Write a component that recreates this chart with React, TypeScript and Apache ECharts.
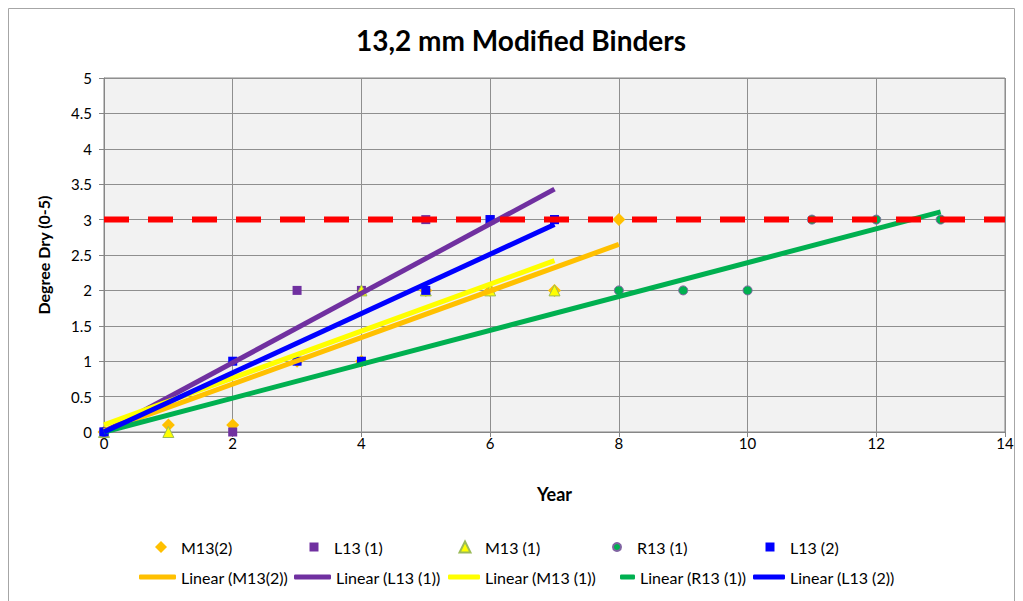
import React, { useEffect, useRef } from "react";
import * as echarts from "echarts";

// ---- data ----
const scatterNames = ["M13(2)", "L13 (1)", "M13 (1)", "R13 (1)", "L13 (2)"];
const trendNames = ["Linear (M13(2))", "Linear (L13 (1))", "Linear (M13 (1))", "Linear (R13 (1))", "Linear (L13 (2))"];

const m13_2X = [0, 1, 2, 3, 4, 5, 6, 7, 8];
const m13_2Y = [0, 0.1, 0.1, 1, 1, 2, 2, 2, 3];
const l13_1X = [0, 2, 3, 4, 5, 6, 7];
const l13_1Y = [0, 0, 2, 2, 3, 3, 3];
const m13_1X = [0, 1, 4, 5, 6, 7];
const m13_1Y = [0, 0, 2, 2, 2, 2];
const r13_1X = [0, 8, 9, 10, 11, 12, 13];
const r13_1Y = [0, 2, 2, 2, 3, 3, 3];
const l13_2X = [0, 2, 3, 4, 5, 6, 7];
const l13_2Y = [0, 1, 1, 1, 2, 3, 3];

// trendline end points [x, y]
const trendM13_2 = [[0, 0.02], [8, 2.65]];
const trendL13_1 = [[0, 0], [7, 3.43]];
const trendM13_1 = [[0, 0.1], [7, 2.42]];
const trendR13_1 = [[0, 0], [13, 3.11]];
const trendL13_2 = [[0, 0], [7, 2.93]];

const thresholdX = [0, 14];
const thresholdY = 3;

const FONT = "Lato, 'Open Sans', sans-serif";

const zip = (xs: number[], ys: number[]) => xs.map((x, i) => [x, ys[i]]);

export default function App() {
  const ref = useRef<HTMLDivElement>(null);
  useEffect(() => {
    document.body.style.margin = "0";
    if (!ref.current) return;
    const chart = echarts.init(ref.current, undefined, { renderer: "svg" });

    const scatterData = [
      zip(m13_2X, m13_2Y),
      zip(l13_1X, l13_1Y),
      zip(m13_1X, m13_1Y),
      zip(r13_1X, r13_1Y),
      zip(l13_2X, l13_2Y),
    ];
    const trendData = [trendM13_2, trendL13_1, trendM13_1, trendR13_1, trendL13_2];
    const colors = ["#FFC000", "#7030A0", "#FFFF00", "#00B050", "#0000FF"];
    const symbols = ["diamond", "rect", "triangle", "circle", "rect"];
    const symbolSizes = [13, 9, 11, 9, 9];
    const borders = [
      { borderWidth: 0 },
      { borderWidth: 0 },
      { borderColor: "#9BBB59", borderWidth: 1 },
      { borderColor: "#8064A2", borderWidth: 1 },
      { borderWidth: 0 },
    ];

    const series: any[] = [];
    scatterNames.forEach((n, i) => {
      series.push({
        name: n,
        type: "scatter",
        data: scatterData[i],
        symbol: symbols[i],
        symbolSize: symbolSizes[i],
        itemStyle: { color: colors[i], opacity: 1, ...borders[i] },
        z: 2,
      });
    });
    trendNames.forEach((n, i) => {
      series.push({
        name: n,
        type: "line",
        data: trendData[i],
        symbol: "none",
        showSymbol: false,
        lineStyle: { color: colors[i], width: 5 },
        itemStyle: { color: colors[i] },
        z: 3,
      });
    });
    series.push({
      name: "threshold",
      type: "line",
      data: thresholdX.map((x) => [x, thresholdY]),
      symbol: "none",
      lineStyle: { color: "#FF0000", width: 6, type: [25, 19] },
      z: 4,
    });

    const row1Left = [155, 308, 458, 610, 764];
    const row1Size = [12, 9, 11, 8, 9];
    const row2Left = [139, 294, 448, 620, 753];
    const row2Width = [37, 37, 32, 15, 32];
    const legends: any[] = [];
    scatterNames.forEach((n, i) => {
      legends.push({
        data: [{ name: n, icon: symbols[i] }],
        left: row1Left[i] + (12 - row1Size[i]) / 2,
        top: 539,
        padding: 0,
        itemWidth: row1Size[i],
        itemHeight: row1Size[i],
        textStyle: {
          fontFamily: FONT,
          fontSize: 16,
          color: "#000",
          padding: [0, 0, 0, 9 + (12 - row1Size[i]) / 2],
        },
        selectedMode: false,
      });
    });
    trendNames.forEach((n, i) => {
      legends.push({
        data: [{ name: n, icon: "roundRect" }],
        left: row2Left[i],
        top: 569,
        padding: 0,
        itemWidth: row2Width[i],
        itemHeight: 5,
        itemGap: 0,
        textStyle: { fontFamily: FONT, fontSize: 16, color: "#000" },
        selectedMode: false,
      });
    });

    chart.setOption({
      animation: false,
      backgroundColor: "#ffffff",
      graphic: [
        {
          type: "rect",
          shape: { x: 8.5, y: 8.5, width: 1006, height: 600 },
          style: { fill: "none", stroke: "#a6a6a6", lineWidth: 1 },
          silent: true,
        },
        {
          type: "text",
          x: 521,
          y: 40,
          style: {
            text: "13,2 mm Modified Binders",
            font: `bold 28px ${FONT}`,
            fill: "#000",
            textAlign: "center",
            textVerticalAlign: "middle",
          },
        },
      ],
      legend: legends,
      grid: {
        left: 104,
        right: 18,
        top: 78,
        bottom: 169,
        show: true,
        backgroundColor: "#F2F2F2",
        borderColor: "#868686",
        borderWidth: 1,
        containLabel: false,
      },
      xAxis: {
        type: "value",
        min: 0,
        max: 14,
        interval: 2,
        name: "Year",
        nameLocation: "middle",
        nameGap: 53,
        nameTextStyle: { fontFamily: FONT, fontSize: 18, fontWeight: "bold", color: "#000" },
        axisLine: { show: true, onZero: false, lineStyle: { color: "#868686" } },
        axisTick: { show: true, length: 5, lineStyle: { color: "#868686" } },
        axisLabel: { fontFamily: FONT, fontSize: 15, color: "#000", margin: 3 },
        splitLine: { show: true, lineStyle: { color: "#8f8f8f", width: 1 } },
      },
      yAxis: {
        type: "value",
        min: 0,
        max: 5,
        interval: 0.5,
        name: "Degree Dry (0-5)",
        nameLocation: "middle",
        nameRotate: 90,
        nameGap: 53,
        nameTextStyle: { fontFamily: FONT, fontSize: 16, fontWeight: "bold", color: "#000" },
        axisLine: { show: true, onZero: false, lineStyle: { color: "#868686" } },
        axisTick: { show: true, length: 5, lineStyle: { color: "#868686" } },
        axisLabel: { fontFamily: FONT, fontSize: 15, color: "#000", margin: 12 },
        splitLine: { show: true, lineStyle: { color: "#8f8f8f", width: 1 } },
      },
      series,
    });
    return () => chart.dispose();
  }, []);
  return <div ref={ref} style={{ width: 1023, height: 601 }} />;
}
